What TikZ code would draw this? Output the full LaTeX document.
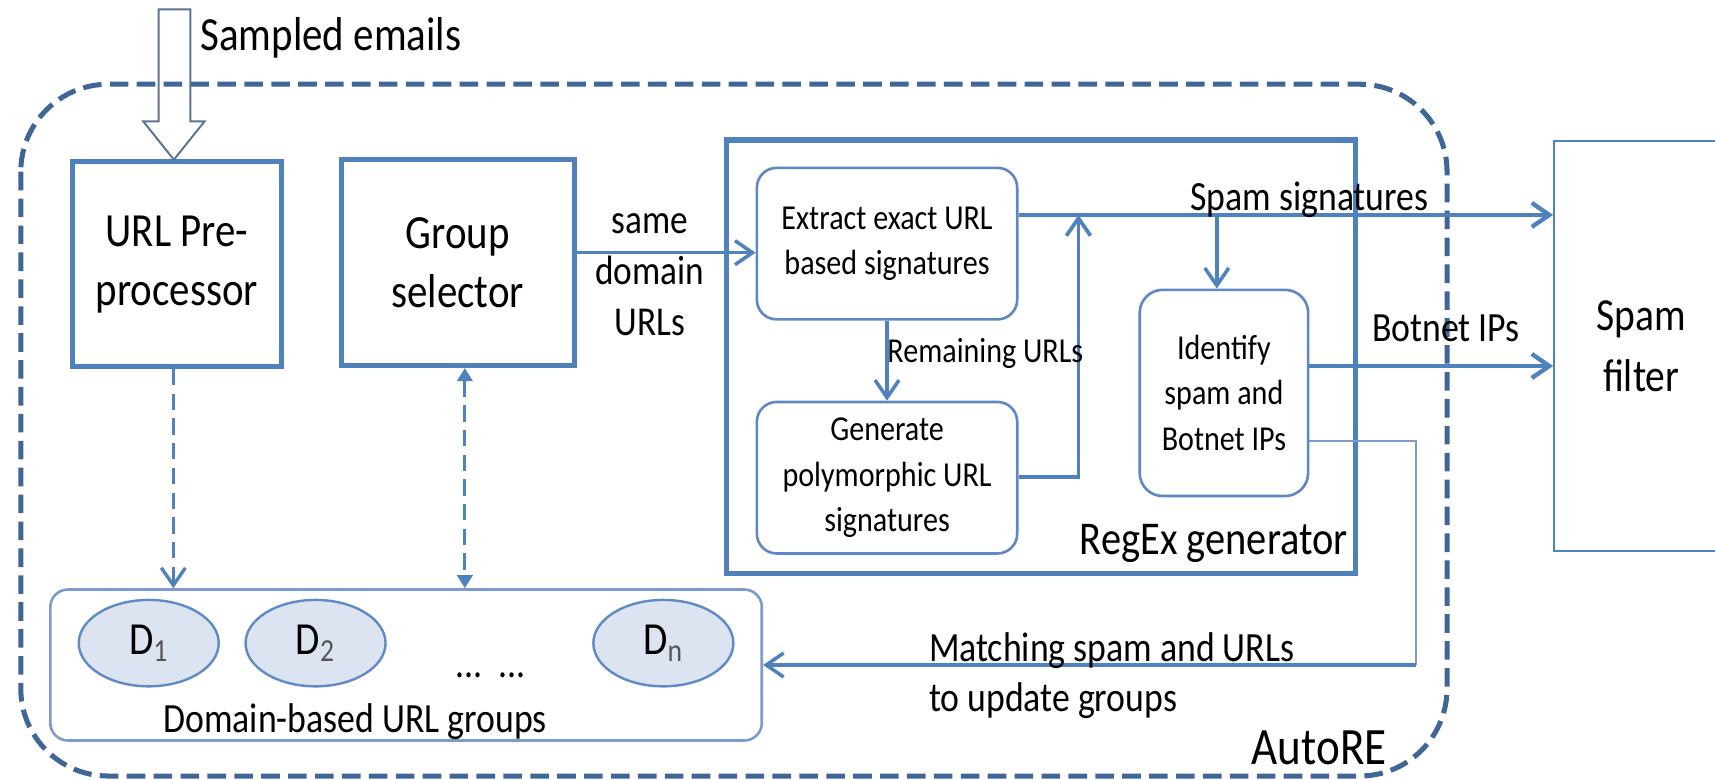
\documentclass[tikz,border=0pt]{standalone}
\usepackage{fontspec}
\setmainfont{Carlito}[FakeStretch=0.86]
\usetikzlibrary{arrows.meta,shapes.geometric}

\definecolor{boxblue}{HTML}{4F81BD}
\definecolor{frameblue}{HTML}{3F6696}
\definecolor{paleblue}{HTML}{7E9CCB}
\definecolor{cellfill}{HTML}{DDE4F1}
\definecolor{cellline}{HTML}{5F8AC6}
\definecolor{roundline}{HTML}{5F88C3}
\definecolor{mailline}{HTML}{5B7494}
\definecolor{subgray}{HTML}{555555}

\tikzset{
  bigbox/.style={draw=boxblue, line width=2.3pt, inner sep=0pt, align=center,
    font=\fontsize{21.75}{27}\selectfont},
  roundbox/.style={draw=roundline, line width=1.2pt, rounded corners=9pt, inner sep=0pt,
    align=center, font=\fontsize{16}{20.75}\selectfont},
  filterbox/.style={draw=boxblue, line width=1pt, inner sep=0pt, align=center,
    font=\fontsize{21}{28}\selectfont},
  groupbox/.style={draw=paleblue, line width=1.2pt, rounded corners=8pt, inner sep=0pt},
  cell/.style={ellipse, draw=cellline, line width=1.1pt, fill=cellfill, inner sep=0pt,
    minimum width=64pt, minimum height=39.5pt, font=\fontsize{21}{24}\selectfont},
  frame/.style={draw=frameblue, line width=2.3pt, dash pattern=on 8.5pt off 3.8pt,
    rounded corners=40pt},
  barbtip/.style={-{Straight Barb[length=8pt,width=11pt]}},
  conn/.style={draw=boxblue, line width=1.6pt, barbtip},
  thinconn/.style={draw=paleblue, line width=0.9pt},
  dashconn/.style={draw=boxblue, line width=1.5pt, dash pattern=on 7.5pt off 3.8pt},
  lab/.style={inner sep=0pt, font=\fontsize{19}{23}\selectfont},
}

\begin{document}
\begin{tikzpicture}[x=0.5pt, y=-0.5pt]
\useasboundingbox (0,0) rectangle (1568,713);

% AutoRE boundary
\draw[frame] (19,77) rectangle (1323,709.5);

% main blocks
\node[bigbox, minimum width=95.25pt, minimum height=93.5pt] (urlpre) at (161.75,241.5) {URL Pre-\\processor};
\node[bigbox, minimum width=106.5pt, minimum height=94.25pt] (groupsel) at (418.5,240) {Group\\selector};
\node[bigbox, minimum width=287.25pt, minimum height=198pt] (regex) at (951.75,326) {};
\node[roundbox, minimum width=119pt, minimum height=69.25pt] (extract) at (811,222.75) {Extract exact URL\\based signatures};
\node[roundbox, minimum width=119pt, minimum height=69.25pt] (generate) at (811,436.75) {Generate\\polymorphic URL\\signatures};
\node[roundbox, minimum width=77pt, minimum height=94.25pt, rounded corners=10.5pt] (identify) at (1119,359.25) {Identify\\spam and\\Botnet IPs};
\node[filterbox, minimum width=79.5pt, minimum height=187.5pt] (filter) at (1500.5,316.5) {Spam\\filter};

% domain groups
\node[groupbox, minimum width=325.25pt, minimum height=69pt] (groups) at (371.25,608) {};
\node[cell] (d1) at (136,588) {D\textsubscript{\color{subgray}1}};
\node[cell] (d2) at (288.5,588) {D\textsubscript{\color{subgray}2}};
\node[cell] (dn) at (606.5,588) {D\textsubscript{\color{subgray}n}};
\node[lab, anchor=base west] (dots) at (416,619) {...~~...};
\node[lab, anchor=base west] (groupslabel) at (149,670) {Domain-based URL groups};

% hollow input arrow
\draw[mailline, line width=0.9pt] (145,8.5) -- (174,8.5) -- (174,111) -- (187,111)
  -- (159,146) -- (131,111) -- (145,111) -- cycle;
\node[lab, anchor=base west, font=\fontsize{21.75}{27}\selectfont] (sampled) at (183,46) {Sampled emails};

% rails used by the connectors
\coordinate (sdrail) at (0,231);
\coordinate (sigrail) at (0,196.5);
\coordinate (botrail) at (0,334.6);
\coordinate (genrail) at (0,436);
\coordinate (matchrail) at (0,403);
\coordinate (backrail) at (0,608);
\coordinate (joinup) at (986,196.5);
\coordinate (dropx) at (1112.5,0);
\coordinate (turnx) at (1294.6,0);
\coordinate (prex) at (158.5,0);
\coordinate (selx) at (425,0);

% connectors
\draw[conn] (groupsel.east |- sdrail) -- (extract.west |- sdrail);
\draw[conn] (extract.south) -- (generate.north);
\draw[conn, line width=1.7pt] (generate.east |- genrail) -| (joinup);
\draw[conn, line width=2pt] (extract.east |- sigrail) -- (filter.west |- sigrail);
\draw[conn] (dropx |- sigrail) -- (dropx |- identify.north);
\draw[conn, line width=2pt] (identify.east |- botrail) -- (filter.west |- botrail);
\draw[thinconn] (identify.east |- matchrail) -| (turnx |- backrail);
\draw[conn] (turnx |- backrail) -- (groups.east |- backrail);
\draw[dashconn, barbtip] (urlpre.south -| prex) -- (groups.north -| prex);
\draw[dashconn, {Triangle[length=6pt,width=7pt]}-{Triangle[length=6pt,width=7pt]}]
  (groupsel.south -| selx) -- (groups.north -| selx);

% labels
\node[lab, align=center, font=\fontsize{18.75}{23.25}\selectfont] (samedom) at (594,251) {same\\domain\\URLs};
\node[lab, anchor=base west, font=\fontsize{16}{20}\selectfont] (remain) at (811,331) {Remaining URLs};
\node[lab, anchor=base west] (siglabel) at (1088,192) {Spam signatures};
\node[lab, anchor=base west] (botlabel) at (1254,312.5) {Botnet IPs};
\node[lab, anchor=base west, font=\fontsize{21.5}{26}\selectfont] (regexlabel) at (987,507) {RegEx generator};
\node[lab, anchor=west, align=left] (matchlabel) at (849,617.6) {Matching spam and URLs\\to update groups};
\node[lab, anchor=base west, font=\fontsize{24}{28}\selectfont] (autore) at (1144,698.5) {AutoRE};
\end{tikzpicture}
\end{document}
